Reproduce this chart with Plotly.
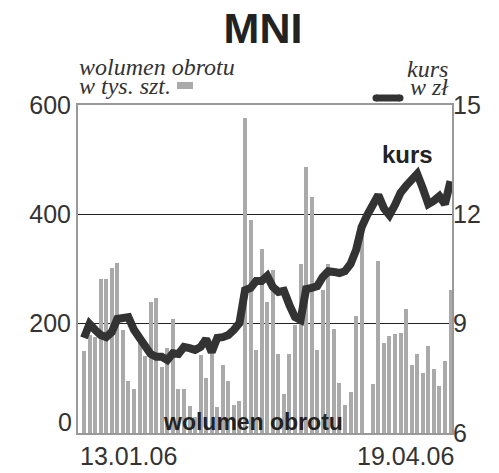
import plotly.graph_objects as go

# ---- data ----
volume = [150, 179, 176, 282, 282, 301, 311, 188, 96, 80,
          165, 140, 240, 247, 121, 156, 209, 80, 80, 49,
          30, 142, 100, 152, 47, 124, 95, 51, 58, 577,
          389, 152, 337, 240, 299, 144, 71, 145, 198, 310,
          486, 432, 152, 261, 310, 191, 92, 52, 75, 214,
          369, 0, 89, 315, 165, 177, 181, 183, 226, 125,
          145, 109, 160, 117, 86, 132, 261]
kurs = [8.61, 8.99, 8.83, 8.69, 8.63, 8.77, 9.13, 9.16, 9.18, 8.83,
        8.61, 8.36, 8.17, 8.09, 8.09, 8.00, 8.19, 8.17, 8.36, 8.33,
        8.28, 8.36, 8.58, 8.22, 8.61, 8.63, 8.69, 8.83, 9.02, 9.92,
        9.98, 10.17, 10.17, 10.31, 10.01, 9.87, 9.90, 9.51, 9.18, 9.10,
        9.95, 9.98, 10.03, 10.28, 10.44, 10.42, 10.39, 10.44, 10.64, 11.02,
        11.65, 11.98, 12.26, 12.53, 12.17, 11.98, 12.26, 12.59, 12.78, 12.94,
        13.11, 12.72, 12.28, 12.37, 12.50, 12.28, 12.91]
sessions = list(range(len(volume)))
date_labels = ["13.01.06", "19.04.06"]
vol_ticks = [0, 200, 400, 600]
kurs_ticks = [6, 9, 12, 15]

# ---- geometry helpers (pixel -> paper) ----
W, H = 499, 473
L, R, T, B = 78, 47, 105, 40
PW, PH = W - L - R, H - T - B


def px(x):
    return (x - L) / PW


def py(y):
    return (H - B - y) / PH


SANS = "Liberation Sans, Arial, sans-serif"
SERIF = "Liberation Serif, Times New Roman, serif"
DARK = "#333333"
BARC = "#aaaaaa"

fig = go.Figure()
fig.add_trace(go.Bar(x=sessions, y=volume, marker_color=BARC,
                     marker_line_width=0, width=0.72, yaxis="y"))
fig.add_trace(go.Scatter(x=sessions, y=kurs, mode="lines", yaxis="y2",
                         line=dict(color=DARK, width=8)))

# left tick labels: the bottom one ("0") sits a bit above its line, as in the original
vol_ticktext = ["" if v == vol_ticks[0] else str(v) for v in vol_ticks]

fig.update_layout(
    width=W, height=H,
    margin=dict(l=L, r=R, t=T, b=B),
    paper_bgcolor="white", plot_bgcolor="white",
    showlegend=False,
    title=dict(text="<b>MNI</b>", x=px(263), xref="paper", xanchor="center",
               y=1 - 28 / H, yref="container", yanchor="middle",
               font=dict(family=SANS, size=43, color="#222222")),
    xaxis=dict(range=[-1.08, 66.27], showticklabels=False, ticks="",
               showgrid=False, zeroline=False,
               showline=True, linecolor="#999999", linewidth=2, mirror=True),
    yaxis=dict(range=[0, 600], tickvals=vol_ticks, ticktext=vol_ticktext,
               showgrid=True, gridcolor="#222222", gridwidth=1,
               zeroline=False,
               showline=True, linecolor="#999999", linewidth=2, mirror=True,
               ticks="", tickfont=dict(family=SANS, size=25, color=DARK)),
    yaxis2=dict(range=[6, 15], tickvals=kurs_ticks, overlaying="y",
                side="right", showgrid=False, zeroline=False, ticks="",
                tickfont=dict(family=SANS, size=25, color=DARK)),
    bargap=0,
)

ann = [
    dict(text="wolumen obrotu", x=px(77), y=py(67), xanchor="left",
         font=dict(family=SERIF, size=24, color=DARK), fi=True),
    dict(text="w tys. szt.", x=px(77), y=py(86), xanchor="left",
         font=dict(family=SERIF, size=24, color=DARK), fi=True),
    dict(text="kurs", x=px(450), y=py(69), xanchor="right",
         font=dict(family=SERIF, size=24, color=DARK), fi=True),
    dict(text="w zł", x=px(451), y=py(87), xanchor="right",
         font=dict(family=SERIF, size=24, color=DARK), fi=True),
    dict(text="<b>kurs</b>", x=px(407.5), y=py(154), xanchor="center",
         font=dict(family=SANS, size=24, color="#222222"), fi=False),
    dict(text="<b>wolumen obrotu</b>", x=px(252.5), y=py(422),
         xanchor="center", font=dict(family=SANS, size=23, color="#222222"),
         fi=False),
    dict(text=date_labels[0], x=px(78), y=py(456), xanchor="left",
         font=dict(family=SANS, size=25, color=DARK), fi=False),
    dict(text=date_labels[1], x=px(456), y=py(456), xanchor="right",
         font=dict(family=SANS, size=25, color=DARK), fi=False),
    dict(text=str(vol_ticks[0]), x=px(74), y=py(422), xanchor="right",
         font=dict(family=SANS, size=25, color=DARK), fi=False),
]
for a in ann:
    italic = a.pop("fi")
    txt = a.pop("text")
    if italic:
        txt = "<i>" + txt + "</i>"
    fig.add_annotation(text=txt, xref="paper", yref="paper", showarrow=False,
                       yanchor="middle", **a)

# legend symbols
fig.add_shape(type="rect", xref="paper", yref="paper",
              x0=px(177), x1=px(193), y0=py(89), y1=py(82),
              fillcolor=BARC, line_width=0)
fig.add_shape(type="line", xref="paper", yref="paper",
              x0=px(376), x1=px(400), y0=py(98), y1=py(98),
              line=dict(color=DARK, width=7))
for cx in (376, 400):
    fig.add_shape(type="circle", xref="paper", yref="paper",
                  x0=px(cx - 3.5), x1=px(cx + 3.5),
                  y0=py(98 + 3.5), y1=py(98 - 3.5),
                  fillcolor=DARK, line_width=0)

fig.write_html("out.html",
               config={"displayModeBar": False, "staticPlot": True},
               post_script="document.body.style.margin='0';"
                           "document.body.style.overflow='hidden';")
